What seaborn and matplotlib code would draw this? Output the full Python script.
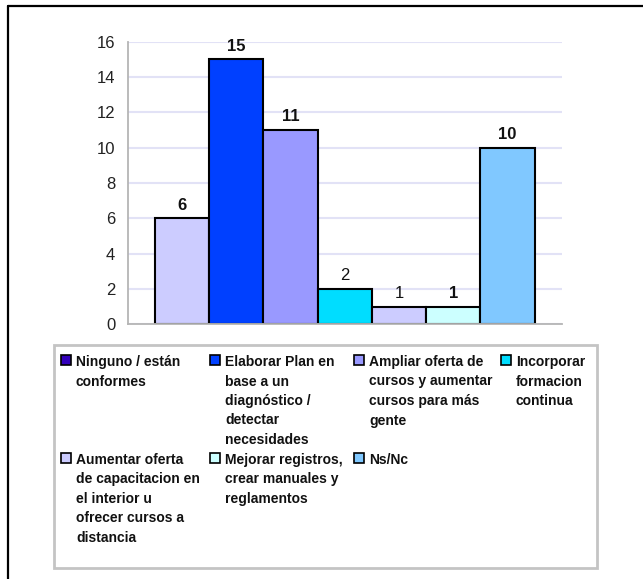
import numpy as np
import pandas as pd
import matplotlib.pyplot as plt
import matplotlib.patches as patches
import matplotlib.lines as lines
import seaborn as sns

# categories (legend text, already wrapped like the original)
categorias = [
    'Ninguno / están\nconformes',
    'Elaborar Plan en\nbase a un\ndiagnóstico /\ndetectar\nnecesidades',
    'Ampliar oferta de\ncursos y aumentar\ncursos para más\ngente',
    'Incorporar\nformacion\ncontinua',
    'Aumentar oferta\nde capacitacion en\nel interior u\nofrecer cursos a\ndistancia',
    'Mejorar registros,\ncrear manuales y\nreglamentos',
    'Ns/Nc',
]
valores = [6, 15, 11, 2, 1, 1, 10]
etiqueta_negrita = [True, True, True, False, False, True, True]

colores_barras = ['#ccccff', '#0040ff', '#9999ff', '#00ddff', '#ccccff', '#ccffff', '#80c8ff']
colores_leyenda = ['#3300bb', '#0040ff', '#9999ff', '#00ddff', '#ccccff', '#ccffff', '#80c8ff']

sns.set_style('white')
plt.rcParams['font.family'] = ['Liberation Sans', 'DejaVu Sans']

W, H = 643, 579
fig = plt.figure(figsize=(W / 100, H / 100), dpi=100)

def fx(px):
    return px / W

def fy(py):
    return 1 - py / H

ax = fig.add_axes([fx(127.7), fy(324.3), (561.7 - 127.7) / W, (324.3 - 41.7) / H])

df = pd.DataFrame({'cat': [str(i) for i in range(len(valores))], 'val': valores})
sns.barplot(data=df, x='cat', y='val', hue='cat', palette=colores_barras, saturation=1,
            width=1, edgecolor='black', linewidth=1.5, legend=False, ax=ax)

for cont, negrita in zip(ax.containers, etiqueta_negrita):
    ax.bar_label(cont, fmt='%d', padding=4, fontsize=12,
                 fontweight='bold' if negrita else 'normal', color='#111111')

ax.set_xlim(-1, 7)
ax.set_ylim(0, 16)
ax.set_yticks(np.arange(0, 17, 2))
ax.set_xticks([-1, 7])
ax.set_xticklabels(['', ''])
ax.set_xlabel('')
ax.set_ylabel('')

ax.yaxis.grid(True, color='#e2e2f6', linewidth=1.5)
ax.set_axisbelow(True)
for s in ['top', 'right']:
    ax.spines[s].set_visible(False)
for s in ['left', 'bottom']:
    ax.spines[s].set_color('#b5b5b5')
    ax.spines[s].set_linewidth(1.3)
ax.tick_params(axis='y', length=6, width=1.3, color='#b5b5b5', pad=3,
               labelsize=12, labelcolor='#222222')
ax.tick_params(axis='x', length=8, width=1.3, color='#b5b5b5')

# legend box
fig.patches.append(patches.Rectangle((fx(54), fy(568)), (597 - 54) / W, (568 - 345) / H,
                                     transform=fig.transFigure, fill=False,
                                     edgecolor='#c4c4c4', linewidth=2))

col_x = [61, 210, 354, 501]
fila_y = [355, 453]
paso = 19.5
for i, (lab, col) in enumerate(zip(categorias, colores_leyenda)):
    fila, colu = divmod(i, 4)
    x0 = col_x[colu]
    y0 = fila_y[fila]
    fig.patches.append(patches.Rectangle((fx(x0), fy(y0 + 10)), 10 / W, 10 / H,
                                         transform=fig.transFigure, facecolor=col,
                                         edgecolor='black', linewidth=1.2))
    for k, linea in enumerate(lab.split('\n')):
        fig.text(fx(x0 + 15), fy(y0 + 7 + k * paso), linea, fontsize=10,
                 fontweight='bold', va='center', ha='left', color='#111111')

# outer frame (top and left)
fig.add_artist(lines.Line2D([fx(8), 1], [fy(6), fy(6)], color='black', linewidth=1.6,
                            transform=fig.transFigure))
fig.add_artist(lines.Line2D([fx(8), fx(8)], [fy(6), 0], color='black', linewidth=1.6,
                            transform=fig.transFigure))

plt.savefig('out.png', dpi=100)
